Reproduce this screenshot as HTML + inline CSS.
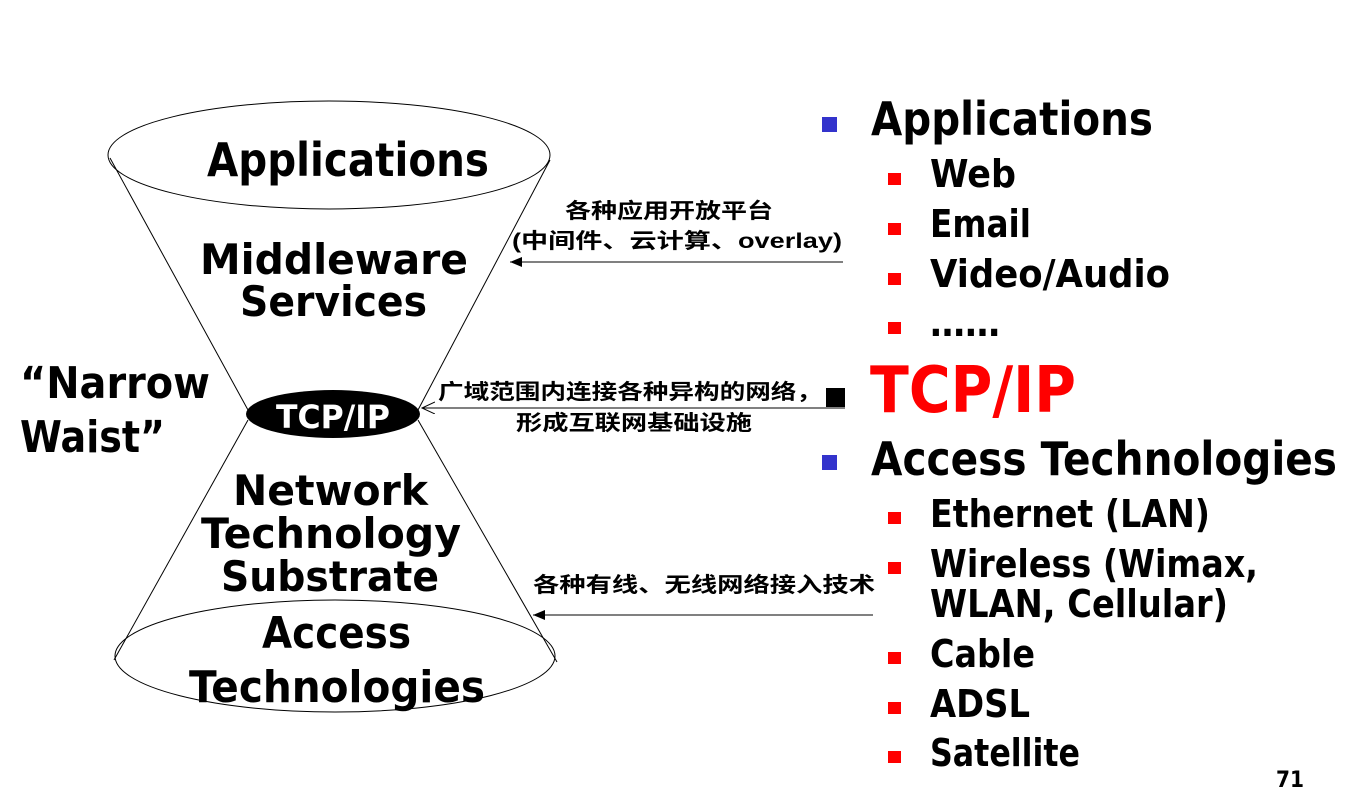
<!DOCTYPE html>
<html><head><meta charset="utf-8"><style>
html,body{margin:0;padding:0;background:#fff;}
svg{display:block;}
text{font-family:"DejaVu Sans","Liberation Sans","Noto Sans CJK SC",sans-serif;font-weight:bold;}
.cn{font-family:"Liberation Sans","Noto Sans CJK SC",sans-serif;font-weight:bold;font-size:21px;}
</style></head><body>
<svg width="1355" height="812" viewBox="0 0 1355 812" xmlns="http://www.w3.org/2000/svg">
<defs>
<marker id="fa" markerWidth="13" markerHeight="10" refX="12" refY="5" orient="auto" markerUnits="userSpaceOnUse">
<path d="M0,0 L12,5 L0,10 Z" fill="#000"/></marker>
<marker id="oa" markerWidth="15" markerHeight="13" refX="13" refY="6" orient="auto" markerUnits="userSpaceOnUse">
<path d="M0,0 L13,6 L0,12" fill="none" stroke="#000" stroke-width="1"/></marker>
</defs>
<!-- hourglass -->
<ellipse cx="329" cy="155" rx="221" ry="54" fill="none" stroke="#000" stroke-width="1"/>
<line x1="110" y1="158" x2="248" y2="410" stroke="#000" stroke-width="1"/>
<line x1="550" y1="160" x2="418" y2="410" stroke="#000" stroke-width="1"/>
<line x1="248" y1="420" x2="114" y2="660" stroke="#000" stroke-width="1"/>
<line x1="418" y1="420" x2="557" y2="662" stroke="#000" stroke-width="1"/>
<ellipse cx="335" cy="656" rx="220" ry="56" fill="none" stroke="#000" stroke-width="1"/>
<ellipse cx="333" cy="414" rx="87" ry="24" fill="#000"/>
<text x="333" y="428" font-size="32" fill="#fff" text-anchor="middle" textLength="114" lengthAdjust="spacingAndGlyphs">TCP/IP</text>

<text x="207" y="176" font-size="46" textLength="282" lengthAdjust="spacingAndGlyphs">Applications</text>
<text x="200" y="274" font-size="42" textLength="268" lengthAdjust="spacingAndGlyphs">Middleware</text>
<text x="240" y="316" font-size="42" textLength="187" lengthAdjust="spacingAndGlyphs">Services</text>
<text x="20" y="398" font-size="44" textLength="190" lengthAdjust="spacingAndGlyphs">“Narrow</text>
<text x="20" y="452" font-size="44" textLength="145" lengthAdjust="spacingAndGlyphs">Waist”</text>
<text x="233" y="505" font-size="42" textLength="195" lengthAdjust="spacingAndGlyphs">Network</text>
<text x="201" y="548" font-size="42" textLength="260" lengthAdjust="spacingAndGlyphs">Technology</text>
<text x="221" y="591" font-size="42" textLength="218" lengthAdjust="spacingAndGlyphs">Substrate</text>
<text x="262" y="648" font-size="44" textLength="149" lengthAdjust="spacingAndGlyphs">Access</text>
<text x="189" y="702" font-size="44" textLength="296" lengthAdjust="spacingAndGlyphs">Technologies</text>

<!-- arrows -->
<line x1="843" y1="262" x2="510" y2="262" stroke="#000" stroke-width="1" marker-end="url(#fa)"/>
<line x1="845" y1="408" x2="422" y2="408" stroke="#000" stroke-width="1" marker-end="url(#oa)"/>
<line x1="873" y1="615" x2="533" y2="615" stroke="#000" stroke-width="1" marker-end="url(#fa)"/>
<rect x="826" y="388" width="19" height="19" fill="#000"/>

<text class="cn" x="565" y="218" textLength="208" lengthAdjust="spacingAndGlyphs">各种应用开放平台</text>
<text class="cn" x="512" y="248" textLength="330" lengthAdjust="spacingAndGlyphs">(中间件、云计算、overlay)</text>
<text class="cn" x="438" y="399" textLength="384" lengthAdjust="spacingAndGlyphs">广域范围内连接各种异构的网络，</text>
<text class="cn" x="516" y="430" textLength="236" lengthAdjust="spacingAndGlyphs">形成互联网基础设施</text>
<text class="cn" x="533" y="592" textLength="342" lengthAdjust="spacingAndGlyphs">各种有线、无线网络接入技术</text>

<!-- right list -->
<rect x="822" y="117" width="15" height="15" fill="#3333cc"/>
<text x="871" y="135" font-size="46" textLength="282" lengthAdjust="spacingAndGlyphs">Applications</text>
<rect x="888" y="173" width="13" height="12" fill="#f00"/>
<text x="930" y="187" font-size="38" textLength="86" lengthAdjust="spacingAndGlyphs">Web</text>
<rect x="888" y="223" width="13" height="12" fill="#f00"/>
<text x="930" y="237" font-size="38" textLength="101" lengthAdjust="spacingAndGlyphs">Email</text>
<rect x="888" y="273" width="13" height="12" fill="#f00"/>
<text x="930" y="287" font-size="38" textLength="240" lengthAdjust="spacingAndGlyphs">Video/Audio</text>
<rect x="888" y="322" width="13" height="12" fill="#f00"/>
<text x="930" y="336" font-size="38" textLength="70" lengthAdjust="spacingAndGlyphs">……</text>
<text x="870" y="412" font-size="64" fill="#f00" textLength="206" lengthAdjust="spacingAndGlyphs">TCP/IP</text>
<rect x="822" y="455" width="15" height="15" fill="#3333cc"/>
<text x="871" y="475" font-size="46" textLength="466" lengthAdjust="spacingAndGlyphs">Access Technologies</text>
<rect x="888" y="512" width="13" height="12" fill="#f00"/>
<text x="930" y="527" font-size="38" textLength="280" lengthAdjust="spacingAndGlyphs">Ethernet (LAN)</text>
<rect x="888" y="562" width="13" height="12" fill="#f00"/>
<text x="930" y="577" font-size="38" textLength="328" lengthAdjust="spacingAndGlyphs">Wireless (Wimax,</text>
<text x="930" y="617" font-size="38" textLength="298" lengthAdjust="spacingAndGlyphs">WLAN, Cellular)</text>
<rect x="888" y="652" width="13" height="12" fill="#f00"/>
<text x="930" y="667" font-size="38" textLength="105" lengthAdjust="spacingAndGlyphs">Cable</text>
<rect x="888" y="702" width="13" height="12" fill="#f00"/>
<text x="930" y="717" font-size="38" textLength="100" lengthAdjust="spacingAndGlyphs">ADSL</text>
<rect x="888" y="751" width="13" height="12" fill="#f00"/>
<text x="930" y="766" font-size="38" textLength="150" lengthAdjust="spacingAndGlyphs">Satellite</text>
<text x="1276" y="787" font-size="22" textLength="28" lengthAdjust="spacingAndGlyphs">71</text>
</svg>
</body></html>
